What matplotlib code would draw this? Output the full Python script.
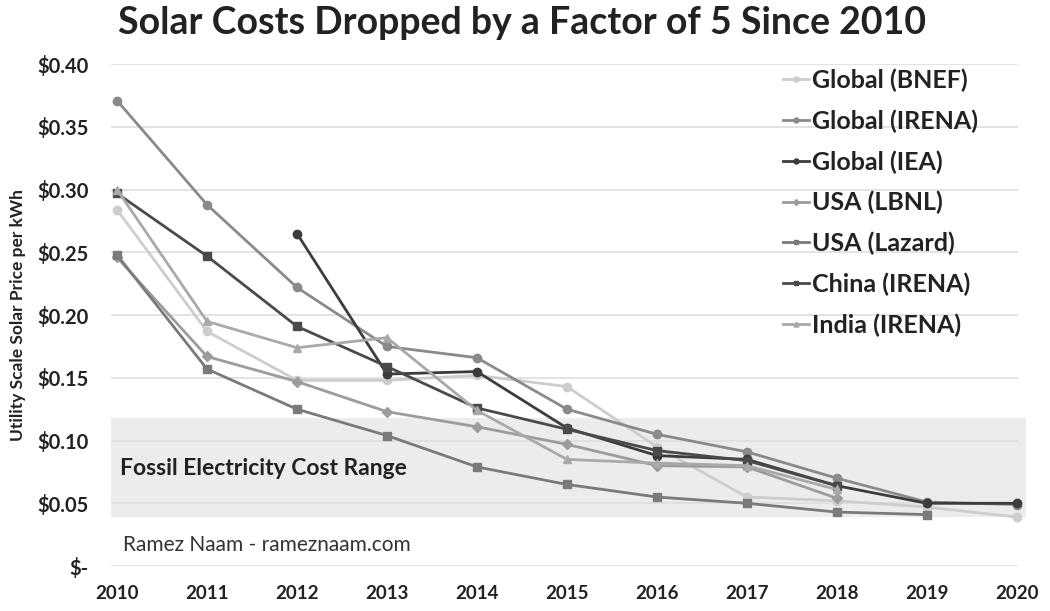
import numpy as np
import matplotlib
matplotlib.use("Agg")
import matplotlib.pyplot as plt
import matplotlib.transforms as mtransforms

plt.rcParams['font.family'] = ['Lato', 'DejaVu Sans']

years = list(range(2010, 2021))

# values (USD per kWh), None = no data
bnef = [0.284, 0.187, 0.148, 0.148, 0.152, 0.143, 0.095, 0.055, 0.052, 0.047, 0.039]
irena = [0.371, 0.288, 0.222, 0.175, 0.166, 0.125, 0.105, 0.091, 0.070, 0.051, 0.049]
iea = [None, None, 0.265, 0.153, 0.155, 0.110, 0.088, 0.085, 0.064, 0.050, 0.050]
lbnl = [0.246, 0.167, 0.147, 0.123, 0.111, 0.097, 0.080, 0.079, 0.054, None, None]
lazard = [0.248, 0.157, 0.125, 0.104, 0.079, 0.065, 0.055, 0.050, 0.043, 0.041, None]
china = [0.297, 0.247, 0.191, 0.159, 0.126, 0.109, 0.092, 0.084, 0.064, None, None]
india = [0.300, 0.195, 0.174, 0.182, 0.124, 0.085, 0.082, 0.080, 0.061, None, None]

series = [
    ("Global (BNEF)", bnef, "#cdcdcd", "o"),
    ("Global (IRENA)", irena, "#8a8a8a", "o"),
    ("Global (IEA)", iea, "#3c3c3c", "o"),
    ("USA (LBNL)", lbnl, "#9c9c9c", "D"),
    ("USA (Lazard)", lazard, "#7a7a7a", "s"),
    ("China (IRENA)", china, "#4a4a4a", "s"),
    ("India (IRENA)", india, "#a9a9a9", "^"),
]

fossil_low, fossil_high = 0.039, 0.118

fig = plt.figure(figsize=(10.5, 6.11), dpi=100)
ax = fig.add_axes([0.1057, 0.0736, 0.8713, 0.8214])

ax.set_xlim(2009.933, 2020.1)
ax.set_ylim(0, 0.40)

# fossil cost band
ax.fill_between([2009.933, 2020.1], fossil_low, fossil_high, color="#ececec", zorder=0, lw=0)

yt = np.arange(0, 0.401, 0.05)
for v in yt:
    ax.axhline(v, xmin=0, xmax=0.99, color="#dedede", lw=1.2, zorder=1)

for name, vals, col, mk in series:
    x = [y for y, v in zip(years, vals) if v is not None]
    y = [v for v in vals if v is not None]
    ms = 6 if mk != "D" else 5
    ax.plot(x, y, color=col, lw=2.0, marker=mk, ms=ms, label=name, zorder=3)

ax.set_yticks(yt)
ax.set_yticklabels(["$-"] + ["${:.2f}".format(v) for v in yt[1:]],
                   fontsize=14.5, fontweight="bold", color="#222222")
ax.set_xticks(years)
ax.set_xticklabels([str(y) for y in years], fontsize=13.5, fontweight="bold", color="#222222")
offset = mtransforms.ScaledTranslation(14 / 100, 0, fig.dpi_scale_trans)
for lab in ax.get_xticklabels():
    lab.set_transform(lab.get_transform() + offset)
ax.tick_params(axis="both", length=0)
ax.tick_params(axis="y", pad=16)
ax.tick_params(axis="x", pad=14)
for s in ax.spines.values():
    s.set_visible(False)

ax.set_ylabel("Utility Scale Solar Price per kWh", fontsize=12.5, fontweight="bold",
              color="#222222", labelpad=8)

ax.text(2010.03, 0.078, "Fossil Electricity Cost Range", fontsize=16.5, fontweight="bold",
        color="#222222", va="center", ha="left", zorder=4)
ax.text(2010.07, 0.017, "Ramez Naam - rameznaam.com", fontsize=15,
        color="#333333", va="center", ha="left", zorder=4)

leg = ax.legend(loc="upper left", bbox_to_anchor=(0.710, 1.036), frameon=False,
                fontsize=18, handlelength=1.05, handletextpad=0.1,
                labelspacing=0.69, markerscale=0.6)
for t in leg.get_texts():
    t.set_fontweight("bold")
    t.set_color("#222222")

fig.text(0.497, 0.962, "Solar Costs Dropped by a Factor of 5 Since 2010",
         fontsize=27, fontweight="bold", color="#222222", ha="center", va="center")

fig.savefig("out.png", dpi=100)
